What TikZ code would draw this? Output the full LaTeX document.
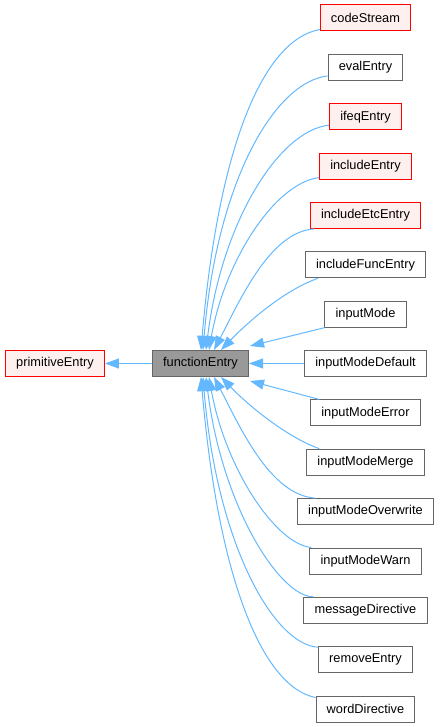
\documentclass[tikz,border=0pt]{standalone}
\usepackage{fontspec}
\setmainfont{Liberation Sans}
\usetikzlibrary{arrows.meta,calc}
\definecolor{edgeblue}{HTML}{63B8FF}
\definecolor{redfill}{HTML}{FFF0F0}
\definecolor{grayline}{HTML}{666666}
\definecolor{basefill}{HTML}{999999}
\tikzset{
  box/.style={rectangle, draw=grayline, fill=white, line width=0.75pt, minimum height=19.5pt, inner xsep=8pt, inner ysep=0pt, font=\fontsize{9.6}{11}\selectfont, text=black},
  redbox/.style={box, draw=red, fill=redfill},
  basebox/.style={box, fill=basefill},
  edge/.style={draw=edgeblue, line width=0.75pt, {Triangle[length=10.5pt,width=7.5pt]}-},
  fwd/.style={draw=edgeblue, line width=0.75pt, -{Triangle[length=10.5pt,width=7.5pt]}}
}
\begin{document}
\begin{tikzpicture}[x=0.75pt,y=-0.75pt]
\useasboundingbox (0,0) rectangle (440,727);
\node[redbox] (pe) at (55,363.5) {primitiveEntry};
\node[basebox] (fe) at (200.5,363.5) {functionEntry};
\node[redbox] (cs) at (365.5,18.0) {codeStream};
\node[box] (ev) at (365.5,67.4) {evalEntry};
\node[redbox] (ifq) at (365.5,116.7) {ifeqEntry};
\node[redbox] (inc) at (365.5,166.1) {includeEntry};
\node[redbox] (iec) at (365.5,215.4) {includeEtcEntry};
\node[box] (ifn) at (365.5,264.8) {includeFuncEntry};
\node[box] (im) at (365.5,314.2) {inputMode};
\node[box] (imd) at (365.5,363.5) {inputModeDefault};
\node[box] (ime) at (365.5,412.9) {inputModeError};
\node[box] (imm) at (365.5,462.2) {inputModeMerge};
\node[box] (imo) at (365.5,511.6) {inputModeOverwrite};
\node[box] (imw) at (365.5,561.0) {inputModeWarn};
\node[box] (md) at (365.5,610.3) {messageDirective};
\node[box] (re) at (365.5,659.7) {removeEntry};
\node[box] (wd) at (365.5,709.0) {wordDirective};
% base class
\draw[fwd] (fe.west) -- (pe.east);
% top group
\draw[edge] ($(fe.north west)+(49,0)$) .. controls (218,150) and (262,40) .. ($(cs.south west)+(0,-2)$);
\draw[edge] ($(fe.north west)+(51,0)$) .. controls (217,180) and (275,82) .. ($(ev.south west)+(0,-5)$);
\draw[edge] ($(fe.north west)+(54,0)$) .. controls (222,220) and (280,130) .. ($(ifq.south west)+(0,-5)$);
\draw[edge] ($(fe.north west)+(57,0)$) .. controls (225,260) and (275,183) .. ($(inc.south west)+(0,-2)$);
\draw[edge] ($(fe.north west)+(62,0)$) .. controls (240,300) and (270,232) .. ($(iec.south west)+(4,0)$);
\draw[edge] ($(fe.north west)+(69,0)$) .. controls (250,320) and (285,290) .. ($(ifn.south west)+(13,0)$);
% right group
\draw[edge] ($(fe.north east)+(1,-4)$) -- (im.south west);
\draw[edge] (fe.east) -- (imd.west);
\draw[edge] ($(fe.south east)+(1,4)$) -- ($(ime.north west)+(9,0)$);
% bottom group
\draw[edge] ($(fe.south west)+(69,0)$) .. controls (250,407) and (287,437) .. ($(imm.north west)+(13,0)$);
\draw[edge] ($(fe.south west)+(62,0)$) .. controls (240,427) and (270,495) .. ($(imo.north west)+(18,0)$);
\draw[edge] ($(fe.south west)+(57,0)$) .. controls (225,467) and (275,544) .. ($(imw.north west)+(2,0)$);
\draw[edge] ($(fe.south west)+(54,0)$) .. controls (222,507) and (280,597) .. ($(md.north west)+(10,0)$);
\draw[edge] ($(fe.south west)+(51,0)$) .. controls (217,547) and (275,645) .. ($(re.north west)+(0,1)$);
\draw[edge] ($(fe.south west)+(49,0)$) .. controls (218,577) and (262,687) .. ($(wd.north west)+(0,2)$);
\end{tikzpicture}
\end{document}
